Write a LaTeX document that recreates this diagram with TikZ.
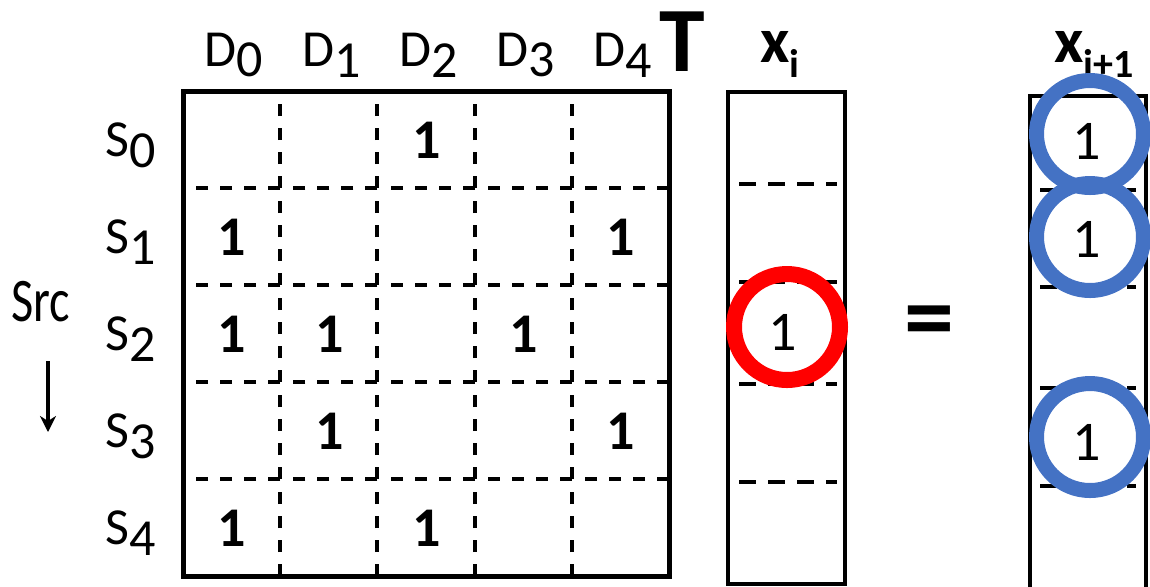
\documentclass[tikz,border=0pt]{standalone}
\usepackage{fontspec}
\setmainfont{Carlito}
\usetikzlibrary{arrows.meta}
\definecolor{RingRed}{HTML}{FF0000}
\definecolor{RingBlue}{HTML}{4472C4}
\newcommand{\lowsub}[2]{#1\raisebox{-0.21em}{#2}}

\begin{document}
\begin{tikzpicture}[
    x=0.5pt,y=-0.5pt,
    axislabel/.style={font=\fontsize{26}{26}\selectfont,inner sep=0pt},
    entry/.style={font=\fontsize{28}{28}\selectfont\bfseries,inner sep=0pt},
    vecentry/.style={font=\fontsize{28}{28}\selectfont,inner sep=0pt},
    veclabel/.style={font=\fontsize{32}{32}\selectfont\bfseries,inner sep=0pt},
    frame/.style={draw,line width=2pt},
    cellsep/.style={line width=2pt,dash pattern=on 6pt off 6pt},
    vecsep/.style={line width=2pt,dash pattern=on 8.5pt off 6pt},
    hit/.style={circle,draw=RingRed,line width=8pt,minimum size=53pt,inner sep=0pt},
    result/.style={circle,draw=RingBlue,line width=7.5pt,minimum size=53.5pt,inner sep=0pt}
  ]
  \useasboundingbox (0,0) rectangle (1150,586);
  \clip (0,0) rectangle (1150,586);

  % adjacency matrix T
  \draw[frame,line width=2.5pt] (183,91) rectangle (669,576);
  \foreach \k in {1,...,4} {
    \foreach \j in {0,...,4} {
      % dashed cell borders, each run starting from its corner
      \draw[cellsep] ({183+97.2*\k},{91+97*(\j+1)}) -- ({183+97.2*\k},{91+97*\j+6});
      \draw[cellsep] ({183+97.2*(\j+1)},{91+97*\k}) -- ({183+97.2*\j+6},{91+97*\k});
    }
  }
  \foreach \k in {0,...,4} {
    \node[axislabel] (d\k) at ({234+97.2*\k},55) {\lowsub{D}{\k}};
    \node[axislabel] (s\k) at (131,{145+97*\k}) {\lowsub{S}{\k}};
  }
  \node[font=\fontsize{46}{46}\selectfont\bfseries,inner sep=0pt] (tmark) at (682,42) {T};

  % nonzero entries (row, column)
  \foreach \r/\c in {0/2, 1/0, 1/4, 2/0, 2/1, 2/3, 3/1, 3/4, 4/0, 4/2}
    \node[entry] (m\r\c) at ({232+97.2*\c},{140+97*\r}) {1};

  % source axis
  \node[font=\fontsize{31}{31}\selectfont,inner sep=0pt] (src) at (41,302)
    {\scalebox{0.78}[1]{Src}};
  \coordinate (srcfrom) at (48,361);
  \coordinate (srcto) at (48,432);
  \draw[line width=2pt,-{Stealth[length=8pt,width=8pt,inset=2.5pt]}] (srcfrom) -- (srcto);

  % vector x_i
  \node[veclabel] (xi) at (780,54)
    {x\raisebox{-7.5pt}{\fontsize{20}{20}\selectfont i}};
  \draw[frame] (728,92) rectangle (845,584);
  \foreach \y in {184,282,384,482}
    \draw[vecsep] (739,\y) -- (837,\y);
  \node[vecentry] (xione) at (783,332) {1};
  \node[hit] (redring) at (787,327) {};

  % equals sign
  \node[font=\fontsize{50}{50}\selectfont\bfseries,inner sep=0pt] (eq) at (929,328) {=};

  % vector x_{i+1}
  \node[veclabel] (xnext) at (1094,54)
    {x\raisebox{-7.5pt}{\fontsize{20}{20}\selectfont i+1}};
  \draw[frame] (1030,96) rectangle (1146,620);
  \foreach \y in {190,287,388,486}
    \draw[vecsep] (1040,\y) -- (1136,\y);
  \node[vecentry] (xnone) at (1087,141) {1};
  \node[vecentry] (xntwo) at (1087,239) {1};
  \node[vecentry] (xnfour) at (1087,442) {1};
  \node[result] (bluea) at (1090,134) {};
  \node[result] (blueb) at (1090,237) {};
  \node[result] (bluec) at (1090,437) {};
\end{tikzpicture}
\end{document}
